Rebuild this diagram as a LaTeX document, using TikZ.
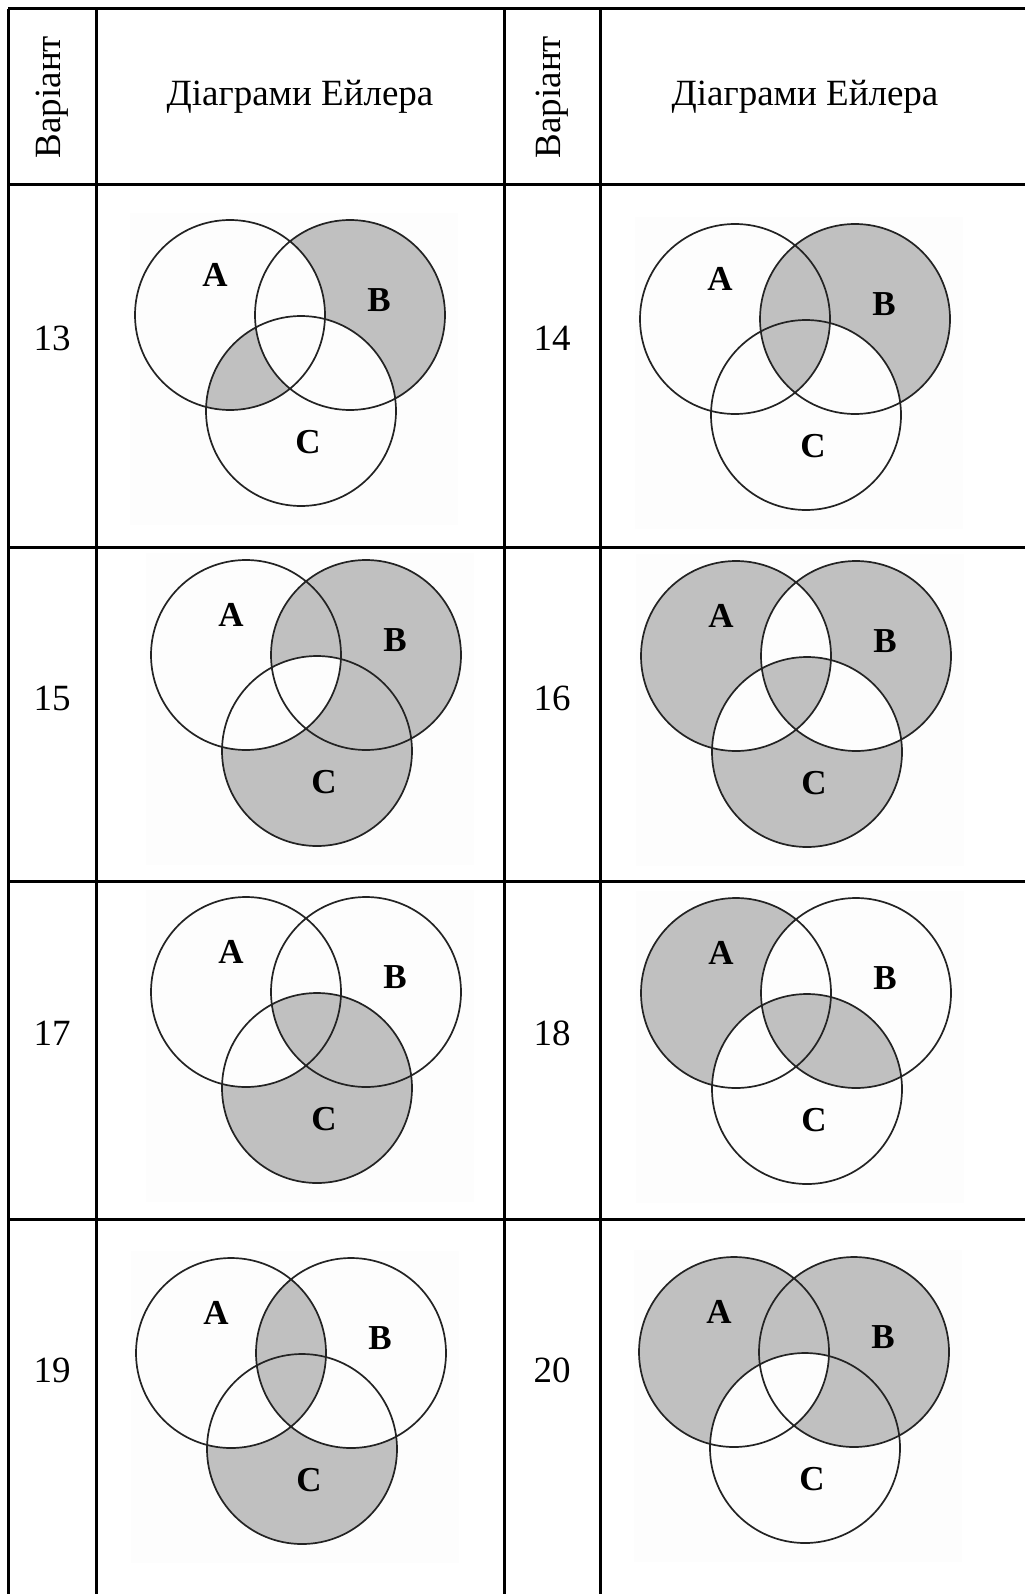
\documentclass[tikz,border=0pt]{standalone}
\usepackage{fontspec}
\setmainfont{Liberation Serif}
\definecolor{vshade}{RGB}{192,192,192}
\definecolor{vline}{RGB}{35,35,35}
\definecolor{vback}{RGB}{253,253,253}

% one Euler diagram: #1,#2 centre of A, #3 name, #4 shaded regions (a/b/c)
\newcommand{\eulerdiag}[4]{%
  \begin{scope}[shift={(#1,#2)}]
    \fill[vback] (-100,-102) rectangle (228,210);
    \foreach \ra/\rb/\rc in {#4}{%
      \begin{scope}[even odd rule]
        \ifnum\ra=1 \clip (0,0) circle[radius=95pt];
        \else \clip (-150,-150) rectangle (300,300) (0,0) circle[radius=95pt]; \fi
        \ifnum\rb=1 \clip (120,0) circle[radius=95pt];
        \else \clip (-150,-150) rectangle (300,300) (120,0) circle[radius=95pt]; \fi
        \ifnum\rc=1 \clip (71,96) circle[radius=95pt];
        \else \clip (-150,-150) rectangle (300,300) (71,96) circle[radius=95pt]; \fi
        \fill[vshade] (-150,-150) rectangle (300,300);
      \end{scope}
    }
    \draw[setline] (0,0) circle[radius=95pt] (120,0) circle[radius=95pt] (71,96) circle[radius=95pt];
    \node[setlab] (a#3) at (-15,-40) {A};
    \node[setlab] (b#3) at (149,-15) {B};
    \node[setlab] (c#3) at (78,127) {C};
  \end{scope}
}

\begin{document}
\begin{tikzpicture}[
  x=1pt, y=-1pt,
  grid/.style={line width=3pt, black},
  setline/.style={line width=1.7pt, vline},
  setlab/.style={font=\fontsize{35}{35}\selectfont\bfseries, inner sep=0pt},
  head/.style={font=\fontsize{37}{40}\selectfont, inner sep=0pt},
  num/.style={font=\fontsize{37}{40}\selectfont, inner sep=0pt},
]
\useasboundingbox (0,0) rectangle (1025,1594);

% ---- table rules
\foreach \yv in {9,185,547,881,1219}
  \draw[grid] (8,\yv) -- (1025,\yv);
\foreach \xv in {8,96,504,600}
  \draw[grid] (\xv,9) -- (\xv,1594);

% ---- header
\node[head, rotate=90] (v1) at (52,97) {Варіант};
\node[head] (d1) at (300,97) {Діаграми Ейлера};
\node[head, rotate=90] (v2) at (552,97) {Варіант};
\node[head] (d2) at (805,97) {Діаграми Ейлера};

% ---- variant numbers
\node[num] (n13) at (52,338) {13};
\node[num] (n14) at (552,338) {14};
\node[num] (n15) at (52,698) {15};
\node[num] (n16) at (552,698) {16};
\node[num] (n17) at (52,1033) {17};
\node[num] (n18) at (552,1033) {18};
\node[num] (n19) at (52,1370) {19};
\node[num] (n20) at (552,1370) {20};

% ---- diagrams
\eulerdiag{230}{315}{13}{0/1/0, 1/0/1}
\eulerdiag{735}{319}{14}{0/1/0, 1/1/0, 1/1/1}
\eulerdiag{246}{655}{15}{0/1/0, 1/1/0, 0/1/1, 0/0/1}
\eulerdiag{736}{656}{16}{1/0/0, 0/1/0, 0/0/1, 1/1/1}
\eulerdiag{246}{992}{17}{0/0/1, 0/1/1, 1/1/1}
\eulerdiag{736}{993}{18}{1/0/0, 1/1/1, 0/1/1}
\eulerdiag{231}{1353}{19}{1/1/0, 1/1/1, 0/0/1}
\eulerdiag{734}{1352}{20}{1/0/0, 0/1/0, 1/1/0, 0/1/1}

\end{tikzpicture}
\end{document}
